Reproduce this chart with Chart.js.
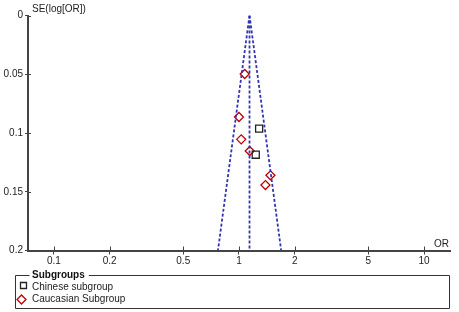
<!DOCTYPE html>
<html>
<head>
<meta charset="utf-8">
<script src="https://cdn.jsdelivr.net/npm/chart.js@4/dist/chart.umd.min.js"></script>
<style>
  html, body { margin: 0; padding: 0; background: #fff; }
  #wrap { width: 459px; height: 312px; }
</style>
</head>
<body>
<div id="wrap"><canvas id="js-funnel" width="459" height="312"></canvas></div>
<script>
// Study points (OR, SE of log OR)
const chineseOR = [1.285, 1.232];
const chineseSE = [0.0963, 0.1185];
const caucasianOR = [1.074, 1.0, 1.028, 1.143, 1.479, 1.39];
const caucasianSE = [0.0498, 0.0864, 0.1054, 0.1153, 0.136, 0.1443];

// Funnel: pooled OR at the apex, limits at the bottom
const funnelTopOR = [1.14, 1.14, 1.14];
const funnelBottomOR = [0.77, 1.14, 1.69];
const funnelSE = [0, 0.2];

// Axis ticks
const xTicks = [0.1, 0.2, 0.5, 1, 2, 5, 10];
const yTicks = [0, 0.05, 0.1, 0.15, 0.2];

const blue = '#3434b0';
const axisColor = '#444';
const font = { family: 'Liberation Sans, Arial, sans-serif', size: 10 };

const toPoints = (xs, ys) => xs.map((x, i) => ({ x: x, y: ys[i] }));

const funnelSets = funnelTopOR.map((top, i) => ({
  type: 'line',
  label: 'funnel' + i,
  data: [{ x: top, y: funnelSE[0] }, { x: funnelBottomOR[i], y: funnelSE[1] }],
  borderColor: blue,
  borderWidth: 1.8,
  borderDash: [3, 2],
  pointRadius: 0,
  fill: false,
}));

// Draws axis titles, inner tick halves and the boxed legend
const decorations = {
  id: 'decorations',
  afterDraw(chart) {
    const ctx = chart.ctx;
    const xs = chart.scales.x;
    const ys = chart.scales.y;
    const area = chart.chartArea;
    ctx.save();
    ctx.strokeStyle = axisColor;
    ctx.lineWidth = 1;
    yTicks.forEach(v => {
      const py = Math.round(ys.getPixelForValue(v)) + 0.5;
      ctx.beginPath();
      ctx.moveTo(area.left, py);
      ctx.lineTo(area.left + 3, py);
      ctx.stroke();
    });
    xTicks.forEach(v => {
      const px = Math.round(xs.getPixelForValue(v)) + 0.5;
      ctx.beginPath();
      ctx.moveTo(px, area.bottom);
      ctx.lineTo(px, area.bottom - 4);
      ctx.stroke();
    });

    ctx.fillStyle = '#222';
    ctx.font = '10px Liberation Sans, Arial, sans-serif';
    ctx.textBaseline = 'middle';
    ctx.textAlign = 'left';
    ctx.fillText('SE(log[OR])', 32, 9);
    ctx.textAlign = 'right';
    ctx.fillText('OR', 449, 244);

    // legend box
    const legendSets = chart.data.datasets.filter(d => d.inLegend);
    const boxL = 15.5, boxT = 275.5, boxR = 449.5, boxB = 308.5;
    ctx.font = 'bold 10px Liberation Sans, Arial, sans-serif';
    ctx.textAlign = 'left';
    const title = 'Subgroups';
    const tw = ctx.measureText(title).width;
    ctx.strokeStyle = '#333';
    ctx.beginPath();
    ctx.moveTo(boxL + 14, boxT);
    ctx.lineTo(boxL, boxT);
    ctx.lineTo(boxL, boxB);
    ctx.lineTo(boxR, boxB);
    ctx.lineTo(boxR, boxT);
    ctx.lineTo(32 + tw + 4, boxT);
    ctx.stroke();
    ctx.fillStyle = '#111';
    ctx.fillText(title, 32, boxT);

    ctx.font = '10px Liberation Sans, Arial, sans-serif';
    legendSets.forEach((d, i) => {
      const cy = 286 + i * 12;
      ctx.lineWidth = 1.3;
      ctx.strokeStyle = d.borderColor;
      ctx.beginPath();
      if (d.pointStyle === 'rect') {
        ctx.rect(20.5, cy - 3.5, 6, 6);
      } else {
        ctx.moveTo(21.5, cy + 6);
        ctx.lineTo(26, cy + 1.5);
        ctx.lineTo(21.5, cy - 3);
        ctx.lineTo(17, cy + 1.5);
        ctx.closePath();
      }
      ctx.stroke();
      ctx.fillStyle = '#222';
      ctx.fillText(d.label, 32, cy + 1);
    });
    ctx.restore();
  },
};

new Chart(document.getElementById('js-funnel').getContext('2d'), {
  type: 'scatter',
  data: {
    datasets: [
      ...funnelSets,
      {
        label: 'Chinese subgroup',
        inLegend: true,
        data: toPoints(chineseOR, chineseSE),
        pointStyle: 'rect',
        pointRadius: 5,
        borderColor: '#222',
        backgroundColor: 'rgba(0,0,0,0)',
        borderWidth: 1.3,
      },
      {
        label: 'Caucasian Subgroup',
        inLegend: true,
        data: toPoints(caucasianOR, caucasianSE),
        pointStyle: 'rectRot',
        pointRadius: 4.5,
        borderColor: '#c00000',
        backgroundColor: 'rgba(0,0,0,0)',
        borderWidth: 1.3,
      },
    ],
  },
  options: {
    responsive: false,
    animation: false,
    layout: { padding: { top: 15.5, right: 9, bottom: 41.5, left: 0 } },
    plugins: {
      legend: { display: false },
      tooltip: { enabled: false },
    },
    scales: {
      x: {
        type: 'logarithmic',
        min: 0.0725,
        max: 13.8,
        afterBuildTicks: scale => { scale.ticks = xTicks.map(v => ({ value: v })); },
        afterFit: scale => { scale.height = 20; },
        ticks: {
          autoSkip: false,
          maxRotation: 0,
          padding: 1,
          color: '#222',
          font: font,
          callback: v => String(v),
        },
        grid: { drawOnChartArea: false, tickLength: 4, color: axisColor, tickWidth: 1 },
        border: { color: axisColor, width: 2 },
      },
      y: {
        reverse: true,
        min: 0,
        max: 0.2,
        afterBuildTicks: scale => { scale.ticks = yTicks.map(v => ({ value: v })); },
        afterFit: scale => { scale.width = 28; },
        ticks: {
          padding: 2,
          color: '#222',
          font: font,
          callback: v => String(v),
        },
        grid: { drawOnChartArea: false, tickLength: 3, color: axisColor, tickWidth: 1 },
        border: { color: axisColor, width: 2 },
      },
    },
  },
  plugins: [decorations],
});
</script>
</body>
</html>
